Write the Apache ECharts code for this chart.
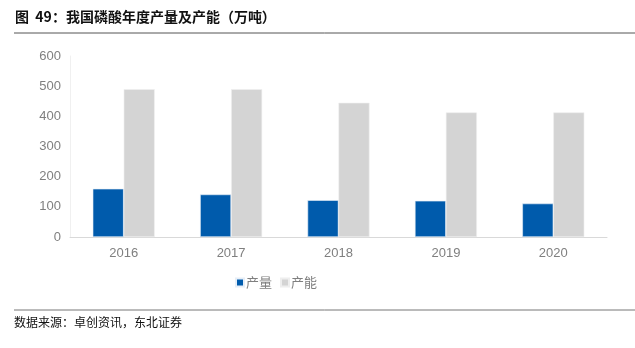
<!DOCTYPE html>
<html>
<head>
<meta charset="utf-8">
<script src="https://cdn.jsdelivr.net/npm/echarts@6/dist/echarts.min.js"></script>
<style>
  html, body { margin: 0; padding: 0; background: #fff; }
  #chart { width: 635px; height: 348px; }
</style>
</head>
<body>
<div id="chart"></div>
<script>
// 我国磷酸年度产量及产能（万吨）
const years = ['2016', '2017', '2018', '2019', '2020'];
const output = [160, 141, 122, 120, 111];      // 产量
const capacity = [490, 490, 445, 413, 413];    // 产能
const yTicks = { min: 0, max: 600, interval: 100 };

const chart = echarts.init(document.getElementById('chart'), null, { renderer: 'canvas' });
const cjk = '"Noto Sans CJK SC", "Noto Sans", sans-serif';

chart.setOption({
  animation: false,
  backgroundColor: '#fff',
  grid: { left: 70, right: 28, top: 56, bottom: 111, containLabel: false },
  legend: {
    left: 230, top: 271,
    itemWidth: 8, itemHeight: 8, itemGap: 8,
    icon: 'rect',
    textStyle: { fontFamily: cjk, fontSize: 13, color: '#7f7f7f', padding: [0, 0, 0, -3] },
    data: ['产量', '产能']
  },
  xAxis: {
    type: 'category',
    data: years,
    axisLine: { lineStyle: { color: '#d9d9d9', width: 1 } },
    axisTick: { show: false },
    axisLabel: { color: '#7f7f7f', fontSize: 13, fontFamily: 'Liberation Sans, Arial, sans-serif', margin: 10 }
  },
  yAxis: {
    type: 'value',
    min: yTicks.min, max: yTicks.max, interval: yTicks.interval,
    axisLine: { show: true, lineStyle: { color: '#f0f0f0', width: 1 } },
    axisTick: { show: false },
    splitLine: { show: false },
    axisLabel: { color: '#7f7f7f', fontSize: 13, fontFamily: 'Liberation Sans, Arial, sans-serif', margin: 9 }
  },
  series: [
    {
      name: '产量', type: 'bar', data: output,
      barWidth: 31, barGap: '0%',
      itemStyle: { color: '#005bac', borderColor: '#e6eef7', borderWidth: 0.6 }
    },
    {
      name: '产能', type: 'bar', data: capacity,
      barWidth: 31,
      itemStyle: { color: '#d4d4d4', borderColor: '#eeeeee', borderWidth: 0.6 }
    }
  ],
  graphic: [
    {
      type: 'text', left: 15, top: 10,
      style: { text: '图  49：我国磷酸年度产量及产能（万吨）', fontFamily: cjk, fontWeight: 'bold', fontSize: 14, fill: '#111' }
    },
    {
      type: 'line', shape: { x1: 14, y1: 33, x2: 635, y2: 33 },
      style: { stroke: '#555', lineWidth: 1 }
    },
    {
      type: 'line', shape: { x1: 14, y1: 310, x2: 635, y2: 310 },
      style: { stroke: '#777', lineWidth: 1 }
    },
    {
      type: 'text', left: 14, top: 316,
      style: { text: '数据来源：卓创资讯，东北证券', fontFamily: cjk, fontSize: 12, fill: '#111' }
    }
  ]
});
</script>
</body>
</html>
